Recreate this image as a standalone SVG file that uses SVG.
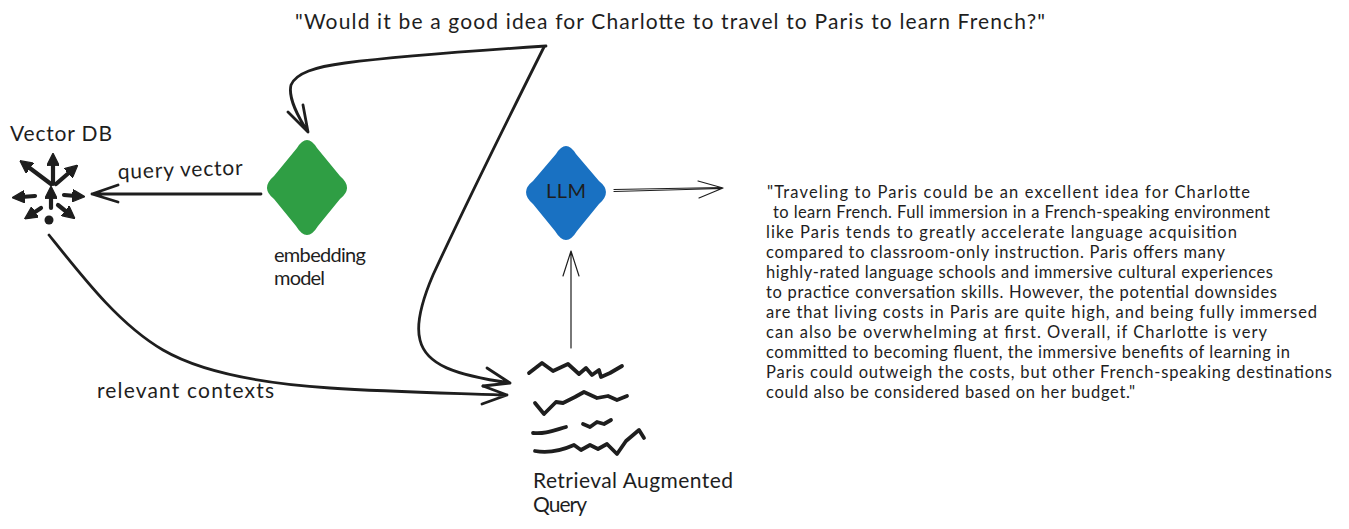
<svg xmlns="http://www.w3.org/2000/svg" width="1349" height="529" viewBox="0 0 1349 529">
<style>
text{font-family:"Lato","Liberation Sans",sans-serif;fill:#1e1e1e}
.t{font-size:20px}
.w{font-size:21px}
.p{font-size:16.5px}
.c{fill:none;stroke:#1e1e1e;stroke-linecap:round;stroke-linejoin:round}
.h{stroke-width:2.8}
.l{stroke-width:1.2}
.i{fill:none;stroke:#1e1e1e;stroke-width:4.200;stroke-linecap:round;marker-end:url(#ah)}
.s{fill:none;stroke:#1e1e1e;stroke-width:3.8;stroke-linecap:round;stroke-linejoin:round}
</style>
<defs>
<marker id="ah" viewBox="0 0 10 10" refX="3" refY="5" markerWidth="3" markerHeight="3" orient="auto" markerUnits="strokeWidth"><path d="M0 0L10 5L0 10Z" fill="#1e1e1e" stroke="#1e1e1e" stroke-width="1" stroke-linejoin="round"/></marker>
</defs>
<rect width="1349" height="529" fill="#ffffff"/>
<g id="connectors">
<path class="c h" d="M546 46C470 51 400 56 345 63C315 67 296 73 291 85C288 97 298 117 308 132M288 112L308 132L303 105"/>
<path class="c h" d="M544 47C510 115 470 195 433 275C421 303 416 325 420 340C426 365 455 375 510 383M487 368L510 383L483 386"/>
<path class="c h" d="M49 235C85 280 120 325 163 350C206 375 270 384 330 388S450 393 507 395M483 386L507 395L482 404"/>
<path class="c h" d="M261 194L92 194M118 185L92 194L118 202"/>
<path class="c l" d="M571 348L571 251M563 276L571 251L579 276"/>
<path class="c l" d="M614 189.500L722 187.500M614 191.500L722 188.500M698 181L723 188L699 198"/>
</g>
<g id="query"><text class="w" x="295" y="29" textLength="750" lengthAdjust="spacing">"Would it be a good idea for Charlotte to travel to Paris to learn French?"</text></g>
<g id="vector-db">
<text class="w" x="10" y="141" textLength="102" lengthAdjust="spacing">Vector DB</text>
<path class="i" d="M53 184L53 162"/>
<path class="i" d="M51 184L27 166"/>
<path class="i" d="M56 184L71 171"/>
<path class="i" d="M35 196L21 197"/>
<path class="i" d="M64 195L76 196"/>
<path class="i" d="M51 208L51 195"/>
<path class="i" d="M41 208L32 214"/>
<path class="i" d="M58 205L68 213"/>
<circle cx="49" cy="220" r="4.500" fill="#1e1e1e"/>
</g>
<g id="query-vector-label"><text class="w" x="118" y="179" textLength="125" lengthAdjust="spacing" transform="rotate(-2 118 179)">query vector</text></g>
<g id="embedding-model">
<path fill="#2f9e44" d="M297 148Q307 132 317 148L340 176Q354 188 340 199L318 226Q307 244 296 226L274 199Q260 188 274 176Z"/>
<text class="t" x="274" y="262" textLength="92" lengthAdjust="spacing">embedding</text>
<text class="t" x="274" y="285" textLength="51" lengthAdjust="spacing">model</text>
</g>
<g id="llm">
<path fill="#1971c2" d="M556 154Q566 138 576 154L599 181Q613 192 599 204L577 231Q566 249 555 231L533 204Q519 192 533 181Z"/>
<text class="t" x="546" y="198" textLength="40" lengthAdjust="spacing">LLM</text>
</g>
<g id="relevant-contexts-label"><text class="w" x="97" y="398" textLength="177" lengthAdjust="spacing">relevant contexts</text></g>
<g id="retrieval-augmented-query">
<path class="s" d="M529 373L542 363L553 371L568 364L579 374L586 368L592 375L599 370L601 377L610 373L622 366"/>
<path class="s" d="M535 403L544 414L556 402L563 403L575 397L584 392L597 398L608 396L617 400L627 396"/>
<path class="s" d="M533 433C545 434 552 431 566 427"/>
<path class="s" d="M583 424L590 427L597 422L604 424L611 420"/>
<path class="s" d="M535 451C552 454 565 449 574 445L581 450L590 445L598 449L607 444L617 454L626 441L639 430L644 438"/>
<text class="w" x="533" y="488" textLength="200" lengthAdjust="spacing">Retrieval Augmented</text>
<text class="w" x="533" y="512" textLength="54" lengthAdjust="spacing">Query</text>
</g>
<g id="answer">
<text class="p" x="767" y="198" textLength="483" lengthAdjust="spacing">"Traveling to Paris could be an excellent idea for Charlotte</text>
<text class="p" x="773" y="218" textLength="497" lengthAdjust="spacing">to learn French. Full immersion in a French-speaking environment</text>
<text class="p" x="766" y="238" textLength="471" lengthAdjust="spacing">like Paris tends to greatly accelerate language acquisition</text>
<text class="p" x="766" y="258" textLength="459" lengthAdjust="spacing">compared to classroom-only instruction. Paris offers many</text>
<text class="p" x="766" y="278" textLength="507" lengthAdjust="spacing">highly-rated language schools and immersive cultural experiences</text>
<text class="p" x="766" y="298" textLength="511" lengthAdjust="spacing">to practice conversation skills. However, the potential downsides</text>
<text class="p" x="766" y="318" textLength="551" lengthAdjust="spacing">are that living costs in Paris are quite high, and being fully immersed</text>
<text class="p" x="766" y="338" textLength="501" lengthAdjust="spacing">can also be overwhelming at first. Overall, if Charlotte is very</text>
<text class="p" x="766" y="358" textLength="524" lengthAdjust="spacing">committed to becoming fluent, the immersive benefits of learning in</text>
<text class="p" x="766" y="378" textLength="566" lengthAdjust="spacing">Paris could outweigh the costs, but other French-speaking destinations</text>
<text class="p" x="766" y="398" textLength="369" lengthAdjust="spacing">could also be considered based on her budget."</text>
</g>
</svg>
